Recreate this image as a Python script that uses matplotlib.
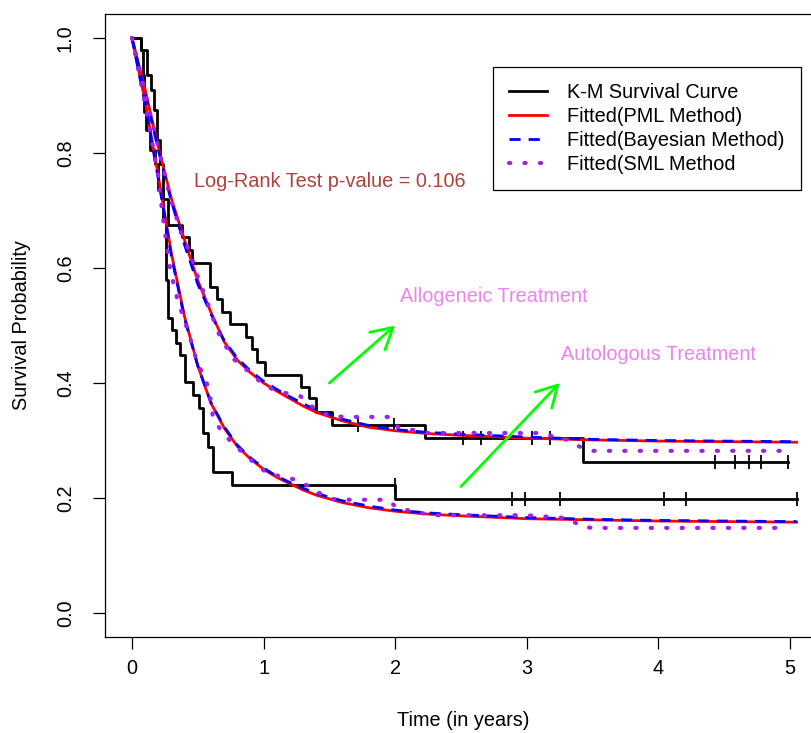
import numpy as np
import matplotlib
matplotlib.use("Agg")
import matplotlib.pyplot as plt

plt.rcParams['font.family'] = ['Liberation Sans', 'DejaVu Sans']

# Kaplan-Meier steps (event times, survival after each step)
allo_time = [0, 0.068, 0.114, 0.144, 0.167, 0.190, 0.213, 0.236, 0.274, 0.380, 0.433, 0.456,
             0.593, 0.646, 0.684, 0.745, 0.866, 0.912, 0.950, 1.011, 1.284, 1.345, 1.398,
             1.520, 2.226, 3.427]
allo_surv = [1.0, 0.979, 0.936, 0.910, 0.875, 0.823, 0.780, 0.720, 0.675, 0.654, 0.631, 0.609,
             0.567, 0.546, 0.523, 0.503, 0.480, 0.459, 0.437, 0.414, 0.393, 0.374, 0.350,
             0.327, 0.304, 0.263]
allo_end = 4.985
allo_cens = [1.717, 1.99, 2.515, 2.652, 3.04, 3.176, 4.43, 4.58, 4.69, 4.78, 4.985]

auto_time = [0, 0.068, 0.084, 0.090, 0.106, 0.137, 0.175, 0.198, 0.236, 0.258, 0.274, 0.304,
             0.334, 0.365, 0.403, 0.464, 0.509, 0.540, 0.578, 0.616, 0.760, 1.998]
auto_surv = [1.0, 0.979, 0.936, 0.871, 0.840, 0.805, 0.780, 0.735, 0.683, 0.579, 0.513, 0.492,
             0.470, 0.449, 0.402, 0.379, 0.357, 0.313, 0.289, 0.245, 0.223, 0.198]
auto_end = 5.05
auto_cens = [1.995, 2.89, 2.99, 3.256, 4.04, 4.21, 5.05]

# fitted curves
fit_time = [0, 0.1, 0.2, 0.3, 0.4, 0.5, 0.6, 0.7, 0.8, 0.9, 1.0, 1.1, 1.2, 1.3, 1.4, 1.6, 1.8,
            2.0, 2.25, 2.5, 3.0, 3.5, 4.0, 4.5, 5.05]
allo_pml = [1.0, 0.91, 0.81, 0.72, 0.648, 0.578, 0.523, 0.472, 0.44, 0.418, 0.400, 0.386, 0.373,
            0.360, 0.349, 0.334, 0.323, 0.317, 0.312, 0.309, 0.304, 0.301, 0.299, 0.298, 0.297]
allo_bayes = [1.0, 0.905, 0.805, 0.715, 0.64, 0.572, 0.52, 0.474, 0.443, 0.421, 0.403, 0.389,
              0.376, 0.364, 0.353, 0.337, 0.326, 0.319, 0.314, 0.311, 0.306, 0.302, 0.300,
              0.299, 0.298]
auto_pml = [1.0, 0.89, 0.76, 0.625, 0.515, 0.43, 0.365, 0.322, 0.29, 0.268, 0.25, 0.236, 0.225,
            0.214, 0.205, 0.192, 0.183, 0.177, 0.172, 0.169, 0.164, 0.162, 0.160, 0.159, 0.158]
auto_bayes = [1.0, 0.885, 0.755, 0.62, 0.512, 0.43, 0.366, 0.324, 0.292, 0.27, 0.252, 0.238,
              0.227, 0.217, 0.208, 0.195, 0.186, 0.179, 0.174, 0.171, 0.166, 0.163, 0.161,
              0.160, 0.159]

allo_sml_t = [0, 0.1, 0.2, 0.29, 0.38, 0.44, 0.50, 0.58, 0.65, 0.73, 0.78, 0.87, 0.96, 1.05,
              1.16, 1.28, 1.375, 1.45, 1.52, 1.65, 1.80, 1.96, 2.02, 2.14, 2.25, 2.5, 2.8, 3.1,
              3.31, 3.42, 3.5, 4.0, 4.5, 4.97]
allo_sml = [1.0, 0.905, 0.81, 0.723, 0.657, 0.628, 0.585, 0.536, 0.49, 0.457, 0.44, 0.423,
            0.405, 0.391, 0.383, 0.377, 0.358, 0.348, 0.342, 0.341, 0.341, 0.341, 0.323, 0.318,
            0.313, 0.313, 0.313, 0.313, 0.301, 0.287, 0.282, 0.282, 0.282, 0.282]
auto_sml_t = [0, 0.1, 0.2, 0.228, 0.29, 0.35, 0.39, 0.44, 0.49, 0.54, 0.585, 0.616, 0.684,
              0.76, 0.86, 0.95, 1.03, 1.14, 1.26, 1.37, 1.47, 1.55, 1.75, 1.94, 2.01, 2.14,
              2.3, 2.6, 3.0, 3.31, 3.42, 3.5, 4.0, 4.5, 4.97]
auto_sml = [1.0, 0.885, 0.76, 0.70, 0.597, 0.541, 0.515, 0.48, 0.44, 0.414, 0.391, 0.339,
            0.315, 0.296, 0.275, 0.257, 0.243, 0.237, 0.231, 0.217, 0.202, 0.197, 0.197, 0.197,
            0.184, 0.176, 0.170, 0.170, 0.170, 0.165, 0.150, 0.148, 0.148, 0.148, 0.148]

legend_labels = ["K-M Survival Curve", "Fitted(PML Method)", "Fitted(Bayesian Method)",
                 "Fitted(SML Method"]

FS = 14.3

fig = plt.figure(figsize=(8.12, 7.33), dpi=100)
ax = fig.add_axes([105 / 812, 1 - 637 / 733, 1 - 105 / 812, (637 - 14) / 733])


def km(t, s, end, cens, lab):
    tt = np.append(t, end)
    ss = np.append(s, s[-1])
    ln, = ax.step(tt, ss, where='post', color='black', lw=2, label=lab)
    idx = np.searchsorted(t, cens, side='right') - 1
    ax.plot(cens, np.array(s)[idx], ls='none', marker='|', ms=10, mew=1.3, color='black')
    return ln


h_km = km(allo_time, allo_surv, allo_end, allo_cens, legend_labels[0])
km(auto_time, auto_surv, auto_end, auto_cens, None)

h_pml, = ax.plot(fit_time, allo_pml, color='red', lw=2, label=legend_labels[1])
ax.plot(fit_time, auto_pml, color='red', lw=2)
h_bay, = ax.plot(fit_time, allo_bayes, color='blue', lw=2, dashes=(4, 2.9), label=legend_labels[2])
ax.plot(fit_time, auto_bayes, color='blue', lw=2, dashes=(4, 2.9))
h_sml, = ax.plot(allo_sml_t, allo_sml, color='#A020F0', lw=3, dashes=(0.3, 3.4),
                 dash_capstyle='round', label=legend_labels[3])
ax.plot(auto_sml_t, auto_sml, color='#A020F0', lw=3, dashes=(0.3, 3.4), dash_capstyle='round')

ax.text(1.5, 0.75, "Log-Rank Test p-value = 0.106", color='#B0403A', fontsize=FS,
        ha='center', va='center')
ax.text(2.75, 0.55, "Allogeneic Treatment", color='#EE82EE', fontsize=FS, ha='center', va='center')
ax.text(4.0, 0.45, "Autologous Treatment", color='#EE82EE', fontsize=FS, ha='center', va='center')

arrow_style = dict(arrowstyle='->,head_length=0.75,head_width=0.42', color='#00FF00', lw=2,
                   mutation_scale=20, shrinkA=0, shrinkB=0)
ax.annotate('', xy=(2.0, 0.5), xytext=(1.5, 0.4), arrowprops=arrow_style)
ax.annotate('', xy=(3.25, 0.4), xytext=(2.5, 0.22), arrowprops=arrow_style)

ax.set_xlim(-0.205, (812 - 132) / 131.6)
ax.set_ylim(-0.0417, 1.0417)
ax.set_xticks([0, 1, 2, 3, 4, 5])
ax.set_yticks([0.0, 0.2, 0.4, 0.6, 0.8, 1.0])
ax.set_yticklabels(["0.0", "0.2", "0.4", "0.6", "0.8", "1.0"], rotation=90, va='center')
ax.tick_params(direction='out', length=8.6, width=0.9, labelsize=FS)
ax.tick_params(axis='x', pad=7)
ax.tick_params(axis='y', pad=13)
ax.spines['right'].set_visible(False)
for s in ['left', 'bottom', 'top']:
    ax.spines[s].set_linewidth(0.9)

ax.set_xlabel("Time (in years)", fontsize=FS)
ax.set_ylabel("Survival Probability", fontsize=FS)
ax.xaxis.set_label_coords((463 - 105) / 707, -(720 - 637) / 623)
ax.xaxis.label.set_va('center')
ax.yaxis.set_label_coords((22 - 105) / 707, 0.5)
ax.yaxis.label.set_va('center')

leg = ax.legend(handles=[h_km, h_pml, h_bay, h_sml], loc='upper left',
                bbox_to_anchor=((493 - 105) / 707, (637 - 67) / 623), fontsize=FS,
                fancybox=False, framealpha=1, edgecolor='black', borderpad=0.8,
                handlelength=1.9, handletextpad=1.05, labelspacing=0.26, borderaxespad=0)
leg.get_frame().set_linewidth(0.9)

fig.savefig("out.png", dpi=100)
